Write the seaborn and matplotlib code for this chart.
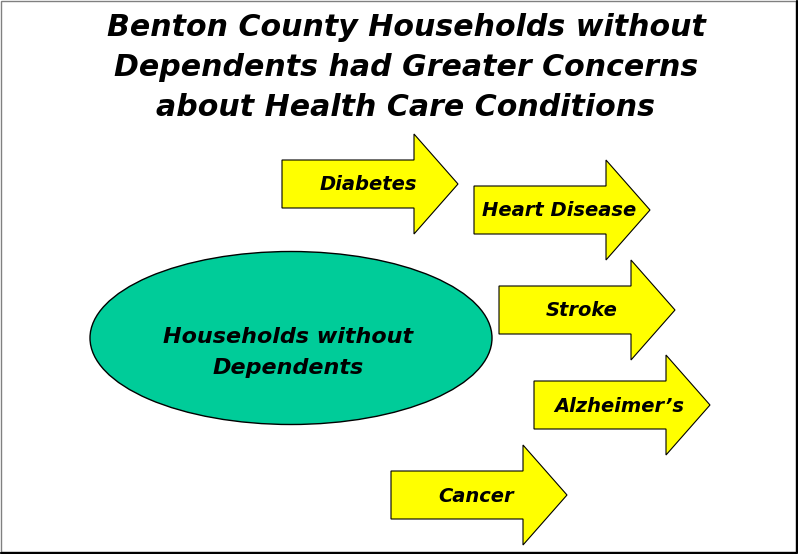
import matplotlib
import matplotlib.pyplot as plt
import seaborn as sns
from matplotlib.patches import Polygon, Ellipse, Rectangle

sns.set_style("white")
matplotlib.rcParams["font.family"] = ["DejaVu Sans"]
matplotlib.rcParams["text.color"] = "black"

title_lines = ["Benton County Households without",
               "Dependents had Greater Concerns",
               "about Health Care Conditions"]
group_lines = ["Households without", "Dependents"]
conditions = ["Diabetes", "Heart Disease", "Stroke", "Alzheimer\u2019s", "Cancer"]

# layout of the arrows: left edge of body, centre line, label centre (pixels)
arrow_left = [282, 474, 499, 534, 391]
arrow_mid = [184, 210, 310, 405, 495]
label_x = [368, 559, 582, 619, 476]
body_len, body_half, head_half, head_len = 132, 24, 50, 44

fig = plt.figure(figsize=(7.98, 5.54), dpi=100)
ax = fig.add_axes([0, 0, 1, 1])
ax.set_xlim(0, 798)
ax.set_ylim(554, 0)
ax.axis("off")

# frame with a darker shadow edge at right/bottom
ax.add_patch(Rectangle((0.5, 0.5), 795, 551, fill=False, ec="#808080", lw=1))
ax.plot([796.5, 796.5, 1], [1, 552.5, 552.5], color="black", lw=1.6)

for line, y in zip(title_lines, [27, 68, 107]):
    ax.text(406, y, line, ha="center", va="center",
            fontsize=21.6, fontweight="bold", fontstyle="italic")

ax.add_patch(Ellipse((291, 338), 402, 173, fc="#00CC99", ec="black", lw=1))
for line, y in zip(group_lines, [337, 368]):
    ax.text(288, y, line, ha="center", va="center", fontsize=16,
            fontweight="bold", fontstyle="italic")

for name, x0, y0, xl in zip(conditions, arrow_left, arrow_mid, label_x):
    xb = x0 + body_len
    pts = [(x0, y0 - body_half), (xb, y0 - body_half), (xb, y0 - head_half),
           (xb + head_len, y0), (xb, y0 + head_half), (xb, y0 + body_half),
           (x0, y0 + body_half)]
    ax.add_patch(Polygon(pts, closed=True, fc="#FFFF00", ec="black", lw=0.8))
    ax.text(xl, y0 + 1, name, ha="center", va="center", fontsize=14,
            fontweight="bold", fontstyle="italic")

fig.savefig("out.png", dpi=100)
